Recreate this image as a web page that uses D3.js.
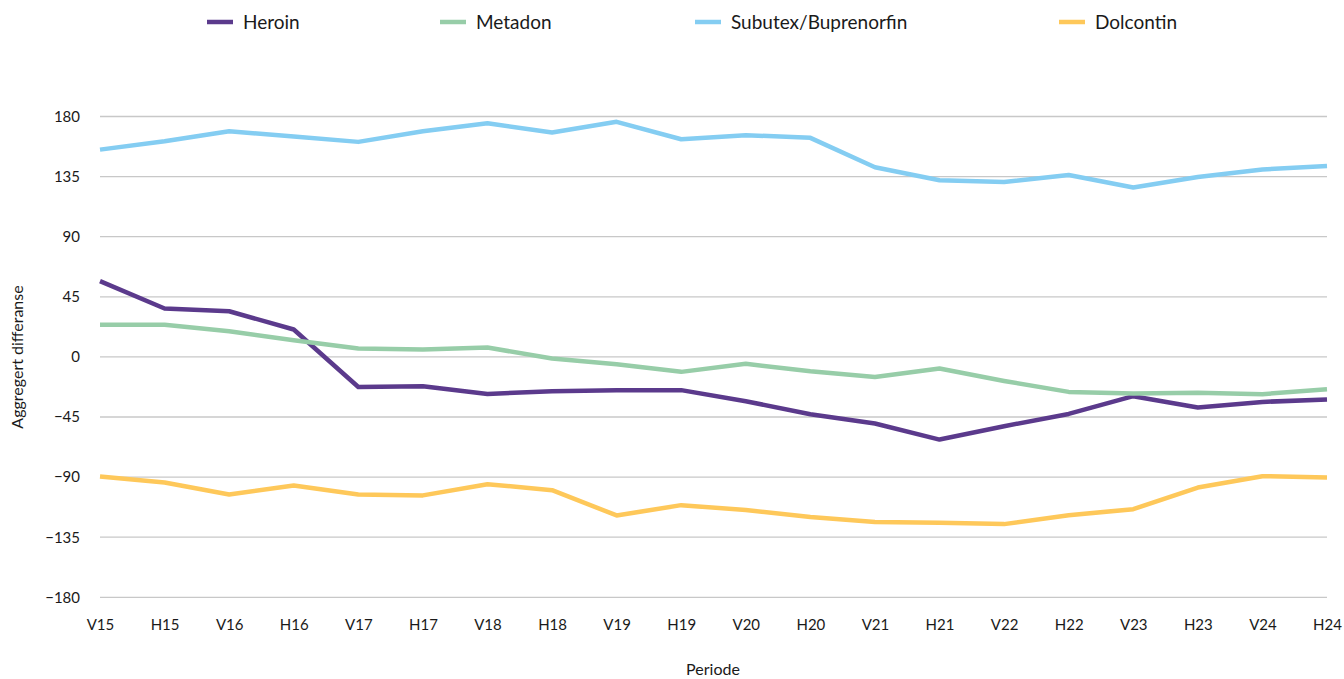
<!DOCTYPE html>
<html>
<head>
<meta charset="utf-8">
<script src="https://cdn.jsdelivr.net/npm/d3@7"></script>
<style>
  body { margin: 0; background: #fff; }
  text { font-family: Lato, "Open Sans", sans-serif; fill: #1a1a1a; }
</style>
</head>
<body>
<svg width="1344" height="679"></svg>
<script>
const periods = ["V15","H15","V16","H16","V17","H17","V18","H18","V19","H19",
                 "V20","H20","V21","H21","V22","H22","V23","H23","V24","H24"];
const yTicks = [-180, -135, -90, -45, 0, 45, 90, 135, 180];

const heroin = [56.7, 36.2, 34.2, 20.5, -22.5, -22, -27.7, -25.7, -24.9, -24.9,
                -33.2, -42.9, -49.9, -61.9, -51.9, -42.7, -29.4, -37.9, -33.7, -31.9];
const metadon = [24, 24, 19.2, 12.5, 6.3, 5.5, 7, -1.2, -5.5, -11.2,
                 -5.2, -10.7, -15, -8.7, -18, -26.2, -27.4, -26.9, -27.9, -24.2];
const subutex = [155.2, 161.4, 169, 165, 161, 169, 175, 168, 176, 163,
                 166, 164, 142, 132.3, 131, 136.2, 126.8, 134.7, 140.3, 143];
const dolcontin = [-89.5, -94, -103, -96.3, -103, -103.7, -95.3, -99.8, -118.7, -111,
                   -114.7, -119.8, -123.7, -124.2, -125.2, -118.5, -114, -97.8, -89.3, -90.3];

const series = [
  { name: "Heroin", values: heroin, color: "#5b3a8c" },
  { name: "Metadon", values: metadon, color: "#97cda8" },
  { name: "Subutex/Buprenorfin", values: subutex, color: "#84cdf2" },
  { name: "Dolcontin", values: dolcontin, color: "#fec85a" }
];

const svg = d3.select("svg");
const plotLeft = 100, plotRight = 1327, plotTop = 116.5, plotBottom = 597.3;

const x = d3.scalePoint().domain(periods).range([plotLeft, plotRight]);
const y = d3.scaleLinear().domain([-180, 180]).range([plotBottom, plotTop]);

// grid lines
svg.append("g")
  .selectAll("line")
  .data(yTicks)
  .enter().append("line")
  .attr("x1", plotLeft).attr("x2", plotRight)
  .attr("y1", d => y(d)).attr("y2", d => y(d))
  .attr("stroke", "#c8c8c8")
  .attr("stroke-width", 1.3);

// y axis labels
const yAxis = svg.append("g")
  .attr("transform", `translate(${plotLeft},0)`)
  .call(d3.axisLeft(y).tickValues(yTicks).tickSize(0).tickPadding(20));
yAxis.select(".domain").remove();
yAxis.selectAll("text")
  .style("font-family", "Lato, 'Open Sans', sans-serif")
  .style("font-size", "15px")
  .attr("fill", "#1a1a1a");

// x axis labels
const xAxis = svg.append("g")
  .attr("transform", `translate(0,${plotBottom})`)
  .call(d3.axisBottom(x).tickSize(0).tickPadding(22));
xAxis.select(".domain").remove();
xAxis.selectAll("text")
  .style("font-family", "Lato, 'Open Sans', sans-serif")
  .style("font-size", "15px")
  .attr("fill", "#1a1a1a");

// lines
const line = d3.line()
  .x((d, i) => x(periods[i]))
  .y(d => y(d));

svg.append("g")
  .selectAll("path")
  .data(series)
  .enter().append("path")
  .attr("d", d => line(d.values))
  .attr("fill", "none")
  .attr("stroke", d => d.color)
  .attr("stroke-width", 4.5)
  .attr("stroke-linejoin", "round");

// axis titles
svg.append("text")
  .attr("transform", "translate(23,357) rotate(-90)")
  .attr("text-anchor", "middle")
  .style("font-size", "16px")
  .text("Aggregert differanse");

svg.append("text")
  .attr("x", 713).attr("y", 675)
  .attr("text-anchor", "middle")
  .style("font-size", "16px")
  .text("Periode");

// legend
const legendX = [207, 440, 695, 1059];
const legend = svg.append("g")
  .selectAll("g")
  .data(series)
  .enter().append("g")
  .attr("transform", (d, i) => `translate(${legendX[i]},22)`);
legend.append("line")
  .attr("x1", 0).attr("x2", 26)
  .attr("stroke", d => d.color)
  .attr("stroke-width", 4.5);
legend.append("text")
  .attr("x", 36).attr("dy", "0.35em")
  .style("font-size", "19px")
  .text(d => d.name);
</script>
</body>
</html>
